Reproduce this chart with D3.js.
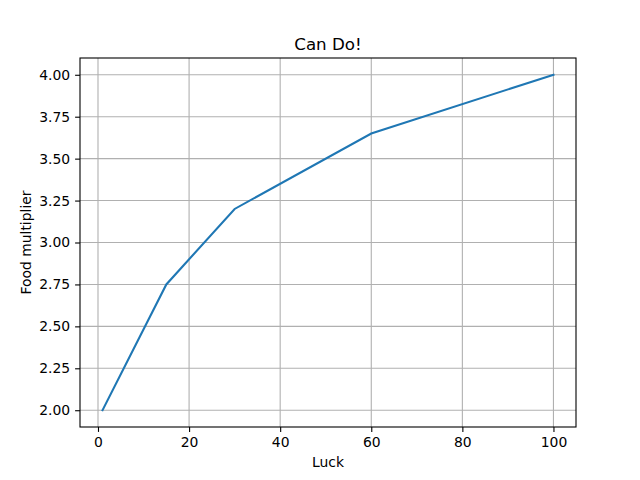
<!DOCTYPE html>
<html>
<head>
<meta charset="utf-8">
<script src="https://cdn.jsdelivr.net/npm/d3@7"></script>
<style>
  body { margin: 0; background: #fff; }
  text { font-family: "DejaVu Sans", sans-serif; }
</style>
</head>
<body>
<svg width="640" height="480"></svg>
<script>
var luck = [1, 15, 30, 60, 100];
var food = [2.0, 2.75, 3.2, 3.65, 4.0];
var xTicks = [0, 20, 40, 60, 80, 100];
var yTicks = [2.0, 2.25, 2.5, 2.75, 3.0, 3.25, 3.5, 3.75, 4.0];

var svg = d3.select("svg"),
    margin = {top: 58, right: 64, bottom: 53, left: 80},
    width = +svg.attr("width") - margin.left - margin.right,
    height = +svg.attr("height") - margin.top - margin.bottom;

svg.append("rect").attr("width", 640).attr("height", 480).attr("fill", "#fff");

var data = luck.map(function(d, i) { return {x: d, y: food[i]}; });

var xPad = (d3.max(luck) - d3.min(luck)) * 0.05,
    yPad = (d3.max(food) - d3.min(food)) * 0.05;

var x = d3.scaleLinear()
    .domain([d3.min(luck) - xPad, d3.max(luck) + xPad])
    .range([0, width]);
var y = d3.scaleLinear()
    .domain([d3.min(food) - yPad, d3.max(food) + yPad])
    .range([height, 0]);

var g = svg.append("g")
    .attr("transform", "translate(" + margin.left + "," + margin.top + ")");

// grid
g.selectAll(".vgrid").data(xTicks).enter().append("line")
    .attr("x1", function(d) { return x(d); })
    .attr("x2", function(d) { return x(d); })
    .attr("y1", 0).attr("y2", height)
    .attr("stroke", "#b0b0b0").attr("stroke-width", 1.1);
g.selectAll(".hgrid").data(yTicks).enter().append("line")
    .attr("y1", function(d) { return y(d); })
    .attr("y2", function(d) { return y(d); })
    .attr("x1", 0).attr("x2", width)
    .attr("stroke", "#b0b0b0").attr("stroke-width", 1.1);

var line = d3.line()
    .x(function(d) { return x(d.x); })
    .y(function(d) { return y(d.y); });

g.append("path")
    .datum(data)
    .attr("d", line)
    .attr("fill", "none")
    .attr("stroke", "#1f77b4")
    .attr("stroke-width", 2.08)
    .attr("stroke-linecap", "square");

// axes
var xAxis = g.append("g")
    .attr("transform", "translate(0," + height + ")")
    .call(d3.axisBottom(x).tickValues(xTicks).tickFormat(d3.format("d")).tickSizeInner(4.9).tickSizeOuter(0).tickPadding(4.9));
var yAxis = g.append("g")
    .call(d3.axisLeft(y).tickValues(yTicks).tickFormat(d3.format(".2f")).tickSizeInner(4.9).tickSizeOuter(0).tickPadding(4.9));

[xAxis, yAxis].forEach(function(a) {
  a.select(".domain").remove();
  a.selectAll(".tick line").attr("stroke", "#000").attr("stroke-width", 1.1);
  a.selectAll(".tick text").attr("font-size", 13.9).attr("fill", "#000")
    .style("font-family", "'DejaVu Sans', sans-serif");
});

g.append("rect")
    .attr("width", width).attr("height", height)
    .attr("fill", "none").attr("stroke", "#000").attr("stroke-width", 1.1);

svg.append("text")
    .attr("x", margin.left + width / 2).attr("y", margin.top - 8)
    .attr("text-anchor", "middle").attr("font-size", 16.7)
    .text("Can Do!");

svg.append("text")
    .attr("x", margin.left + width / 2).attr("y", 467)
    .attr("text-anchor", "middle").attr("font-size", 13.9)
    .text("Luck");

svg.append("text")
    .attr("transform", "translate(31," + (margin.top + height / 2) + ") rotate(-90)")
    .attr("text-anchor", "middle").attr("font-size", 13.9)
    .text("Food multiplier");
</script>
</body>
</html>
